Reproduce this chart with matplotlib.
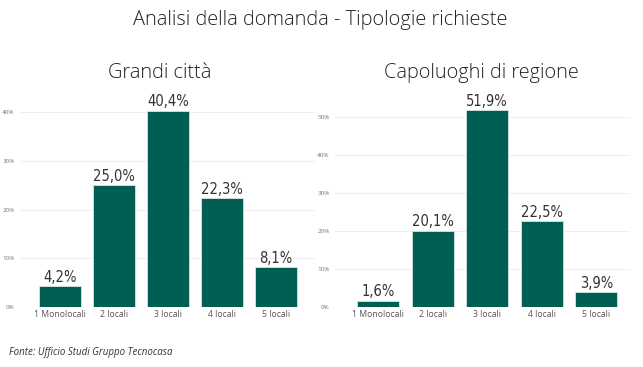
import matplotlib
matplotlib.use('Agg')
import matplotlib.pyplot as plt

# Data
categories = ['1 Monolocali', '2 locali', '3 locali', '4 locali', '5 locali']
grandi_citta = [4.2, 25.0, 40.4, 22.3, 8.1]
capoluoghi = [1.6, 20.1, 51.9, 22.5, 3.9]
left_ticks = [0, 10, 20, 30, 40]
right_ticks = [0, 10, 20, 30, 40, 50]

BAR_COLOR = '#005E53'
W, H = 643, 367

plt.rcParams['font.family'] = ['Open Sans', 'DejaVu Sans']

fig = plt.figure(figsize=(W / 100, H / 100), dpi=100)


def px_axes(x0, x1, y_bottom, y_top):
    return fig.add_axes([x0 / W, 1 - y_bottom / H, (x1 - x0) / W, (y_bottom - y_top) / H])


def draw(ax, values, ticks, xlim, ylim):
    x = range(len(categories))
    bars = ax.bar(x, values, width=0.77, color=BAR_COLOR, edgecolor='#d8e6e3', linewidth=0.6, zorder=3)
    for b, v in zip(bars, values):
        ax.text(b.get_x() + b.get_width() / 2, v + ylim[1] * 0.006, f'{v:.1f}%'.replace('.', ','),
                ha='center', va='bottom', fontsize=10.5, color='#333333',
                family='DejaVu Sans', fontstretch='condensed')
    ax.set_xlim(*xlim)
    ax.set_ylim(*ylim)
    ax.set_yticks(ticks)
    ax.set_yticklabels([f'{t}%' for t in ticks], fontsize=4.5, color='#777777')
    ax.set_xticks(list(x))
    ax.set_xticklabels(categories, fontsize=6.2, color='#555555')
    ax.tick_params(length=0, pad=2.5)
    ax.tick_params(axis='y', pad=4)
    for s in ax.spines.values():
        s.set_visible(False)
    ax.grid(axis='y', color='#eeeeee', linewidth=0.7, zorder=0)
    ax.set_axisbelow(True)


ax1 = px_axes(20, 315, 306.7, 306.7 - 44 * 4.855)
draw(ax1, grandi_citta, left_ticks, (-0.74, 4.72), (0, 44))

ax2 = px_axes(335, 630, 306.7, 306.7 - 55 * 3.787)
draw(ax2, capoluoghi, right_ticks, (-0.79, 4.62), (0, 55))

fig.text(320 / W, 1 - 20 / H, 'Analisi della domanda - Tipologie richieste',
         ha='center', va='center', fontsize=14.4, color='#222222', fontweight='light')
fig.text(160 / W, 1 - 73 / H, 'Grandi città', ha='center', va='center',
         fontsize=14.3, color='#222222', fontweight='light')
fig.text(481 / W, 1 - 73 / H, 'Capoluoghi di regione', ha='center', va='center',
         fontsize=14.3, color='#222222', fontweight='light')
fig.text(9 / W, 1 - 352 / H, 'Fonte: Ufficio Studi Gruppo Tecnocasa', ha='left', va='center',
         fontsize=7, style='italic', color='#333333')

fig.savefig('out.png', dpi=100)
